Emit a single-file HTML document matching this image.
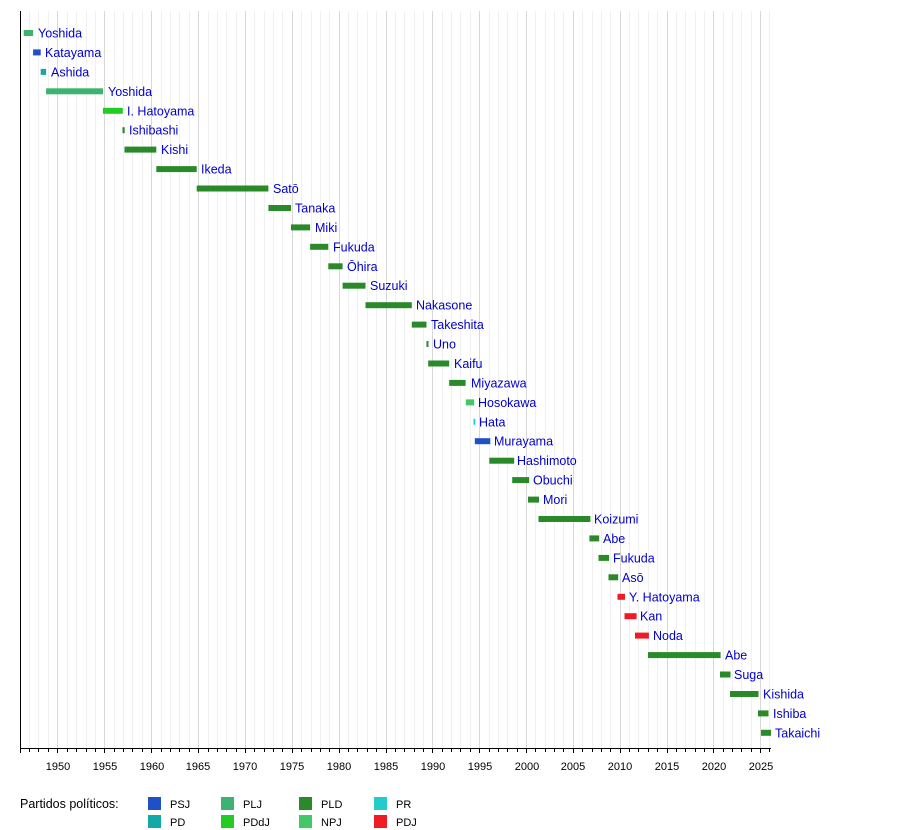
<!DOCTYPE html>
<html><head><meta charset="utf-8"><style>
html,body{margin:0;padding:0;background:#fff;}
svg{display:block;font-family:"Liberation Sans",sans-serif;}
.n{fill:#0000cc;font-size:12.5px;}
.t{font-size:11px;fill:#000;text-anchor:middle;}
.l{font-size:11px;fill:#000;}
</style></head><body>
<svg width="900" height="830" xmlns="http://www.w3.org/2000/svg">
<g stroke="#f0f0f0" stroke-width="1">
<path d="M29.5 11V748M38.5 11V748M48.5 11V748M67.5 11V748M76.5 11V748M86.5 11V748M95.5 11V748M114.5 11V748M123.5 11V748M132.5 11V748M142.5 11V748M161.5 11V748M170.5 11V748M179.5 11V748M189.5 11V748M208.5 11V748M217.5 11V748M226.5 11V748M236.5 11V748M254.5 11V748M264.5 11V748M273.5 11V748M282.5 11V748M301.5 11V748M311.5 11V748M320.5 11V748M329.5 11V748M348.5 11V748M357.5 11V748M367.5 11V748M376.5 11V748M395.5 11V748M404.5 11V748M414.5 11V748M423.5 11V748M442.5 11V748M451.5 11V748M460.5 11V748M470.5 11V748M489.5 11V748M498.5 11V748M507.5 11V748M517.5 11V748M535.5 11V748M545.5 11V748M554.5 11V748M563.5 11V748M582.5 11V748M592.5 11V748M601.5 11V748M610.5 11V748M629.5 11V748M638.5 11V748M648.5 11V748M657.5 11V748M676.5 11V748M685.5 11V748M695.5 11V748M704.5 11V748M723.5 11V748M732.5 11V748M741.5 11V748M751.5 11V748M769.5 11V748"/>
</g>
<g stroke="#d8d8d8" stroke-width="1">
<path d="M57.5 11V748M104.5 11V748M151.5 11V748M198.5 11V748M245.5 11V748M292.5 11V748M339.5 11V748M386.5 11V748M432.5 11V748M479.5 11V748M526.5 11V748M573.5 11V748M620.5 11V748M667.5 11V748M713.5 11V748M760.5 11V748"/>
</g>
<g stroke="#000" stroke-width="1">
<path d="M20.5 11V749M20 748.5H771"/>
<path d="M20.5 748V753M29.5 748V752M38.5 748V752M48.5 748V752M57.5 748V753M67.5 748V752M76.5 748V752M86.5 748V752M95.5 748V752M104.5 748V753M114.5 748V752M123.5 748V752M132.5 748V752M142.5 748V752M151.5 748V753M161.5 748V752M170.5 748V752M179.5 748V752M189.5 748V752M198.5 748V753M208.5 748V752M217.5 748V752M226.5 748V752M236.5 748V752M245.5 748V753M254.5 748V752M264.5 748V752M273.5 748V752M282.5 748V752M292.5 748V753M301.5 748V752M311.5 748V752M320.5 748V752M329.5 748V752M339.5 748V753M348.5 748V752M357.5 748V752M367.5 748V752M376.5 748V752M386.5 748V753M395.5 748V752M404.5 748V752M414.5 748V752M423.5 748V752M432.5 748V753M442.5 748V752M451.5 748V752M460.5 748V752M470.5 748V752M479.5 748V753M489.5 748V752M498.5 748V752M507.5 748V752M517.5 748V752M526.5 748V753M535.5 748V752M545.5 748V752M554.5 748V752M563.5 748V752M573.5 748V753M582.5 748V752M592.5 748V752M601.5 748V752M610.5 748V752M620.5 748V753M629.5 748V752M638.5 748V752M648.5 748V752M657.5 748V752M667.5 748V753M676.5 748V752M685.5 748V752M695.5 748V752M704.5 748V752M713.5 748V753M723.5 748V752M732.5 748V752M741.5 748V752M751.5 748V752M760.5 748V753M769.5 748V752"/>
</g>
<g class="t">
<text x="58" y="770">1950</text><text x="105" y="770">1955</text><text x="152" y="770">1960</text><text x="198" y="770">1965</text><text x="245" y="770">1970</text><text x="292" y="770">1975</text><text x="339" y="770">1980</text><text x="386" y="770">1985</text><text x="433" y="770">1990</text><text x="480" y="770">1995</text><text x="527" y="770">2000</text><text x="573" y="770">2005</text><text x="620" y="770">2010</text><text x="667" y="770">2015</text><text x="714" y="770">2020</text><text x="761" y="770">2025</text>
</g>
<g>
<rect x="23.7" y="30" width="9.4" height="6" fill="#3cb371"/>
<rect x="33.1" y="49.4" width="7.6" height="6" fill="#1e50c8"/>
<rect x="40.7" y="68.9" width="5.4" height="6" fill="#14a8a8"/>
<rect x="46.1" y="88.3" width="56.9" height="6" fill="#3cb371"/>
<rect x="103" y="107.8" width="19.8" height="6" fill="#22cc22"/>
<rect x="122.5" y="127.2" width="2.2" height="6" fill="#2a8a2a"/>
<rect x="124.5" y="146.6" width="31.8" height="6" fill="#2a8a2a"/>
<rect x="156.3" y="166.1" width="40.4" height="6" fill="#2a8a2a"/>
<rect x="196.7" y="185.5" width="71.7" height="6" fill="#2a8a2a"/>
<rect x="268.4" y="205" width="22.6" height="6" fill="#2a8a2a"/>
<rect x="291" y="224.4" width="19.1" height="6" fill="#2a8a2a"/>
<rect x="310.1" y="243.8" width="18.2" height="6" fill="#2a8a2a"/>
<rect x="328.3" y="263.3" width="14.3" height="6" fill="#2a8a2a"/>
<rect x="342.6" y="282.7" width="22.9" height="6" fill="#2a8a2a"/>
<rect x="365.5" y="302.2" width="46.3" height="6" fill="#2a8a2a"/>
<rect x="411.8" y="321.6" width="14.7" height="6" fill="#2a8a2a"/>
<rect x="426.5" y="341" width="2" height="6" fill="#2a8a2a"/>
<rect x="428.2" y="360.5" width="21" height="6" fill="#2a8a2a"/>
<rect x="449.2" y="379.9" width="16.4" height="6" fill="#2a8a2a"/>
<rect x="465.8" y="399.4" width="8.4" height="6" fill="#44c767"/>
<rect x="473.5" y="418.8" width="1.8" height="6" fill="#22cccc"/>
<rect x="474.8" y="438.2" width="15.5" height="6" fill="#1e50c8"/>
<rect x="489.3" y="457.7" width="24.9" height="6" fill="#2a8a2a"/>
<rect x="512.2" y="477.1" width="17" height="6" fill="#2a8a2a"/>
<rect x="528" y="496.6" width="11" height="6" fill="#2a8a2a"/>
<rect x="538.5" y="516" width="51.9" height="6" fill="#2a8a2a"/>
<rect x="589.4" y="535.4" width="9.8" height="6" fill="#2a8a2a"/>
<rect x="598.5" y="554.9" width="10.6" height="6" fill="#2a8a2a"/>
<rect x="608.5" y="574.3" width="9.7" height="6" fill="#2a8a2a"/>
<rect x="617.5" y="593.8" width="7.5" height="6" fill="#ee1c25"/>
<rect x="624.5" y="613.2" width="12.1" height="6" fill="#ee1c25"/>
<rect x="635" y="632.6" width="13.9" height="6" fill="#ee1c25"/>
<rect x="648" y="652.1" width="72.6" height="6" fill="#2a8a2a"/>
<rect x="720" y="671.5" width="10.5" height="6" fill="#2a8a2a"/>
<rect x="730" y="691" width="28.5" height="6" fill="#2a8a2a"/>
<rect x="758" y="710.4" width="10.5" height="6" fill="#2a8a2a"/>
<rect x="761" y="729.8" width="10" height="6" fill="#2a8a2a"/>
</g>
<g class="n">
<text x="38" y="37.5">Yoshida</text>
<text x="45" y="56.9">Katayama</text>
<text x="51" y="76.4">Ashida</text>
<text x="108" y="95.8">Yoshida</text>
<text x="127" y="115.3">I. Hatoyama</text>
<text x="129" y="134.7">Ishibashi</text>
<text x="161" y="154.1">Kishi</text>
<text x="201" y="173.6">Ikeda</text>
<text x="273" y="193">Satō</text>
<text x="295" y="212.5">Tanaka</text>
<text x="315" y="231.9">Miki</text>
<text x="333" y="251.3">Fukuda</text>
<text x="347" y="270.8">Ōhira</text>
<text x="370" y="290.2">Suzuki</text>
<text x="416" y="309.7">Nakasone</text>
<text x="431" y="329.1">Takeshita</text>
<text x="433" y="348.5">Uno</text>
<text x="454" y="368">Kaifu</text>
<text x="471" y="387.4">Miyazawa</text>
<text x="478" y="406.9">Hosokawa</text>
<text x="479" y="426.3">Hata</text>
<text x="494" y="445.7">Murayama</text>
<text x="517" y="465.2">Hashimoto</text>
<text x="533" y="484.6">Obuchi</text>
<text x="543" y="504.1">Mori</text>
<text x="594" y="523.5">Koizumi</text>
<text x="603" y="542.9">Abe</text>
<text x="613" y="562.4">Fukuda</text>
<text x="622" y="581.8">Asō</text>
<text x="629" y="601.3">Y. Hatoyama</text>
<text x="640" y="620.7">Kan</text>
<text x="653" y="640.1">Noda</text>
<text x="725" y="659.6">Abe</text>
<text x="734" y="679">Suga</text>
<text x="763" y="698.5">Kishida</text>
<text x="773" y="717.9">Ishiba</text>
<text x="775" y="737.3">Takaichi</text>
</g>
<text x="20" y="808" style="font-size:12.5px">Partidos políticos:</text>
<g class="l">
<rect x="148" y="797" width="13" height="13" fill="#1e50c8"/><text x="170" y="808">PSJ</text>
<rect x="148" y="815" width="13" height="13" fill="#14a8a8"/><text x="170" y="826">PD</text>
<rect x="221" y="797" width="13" height="13" fill="#3cb371"/><text x="243" y="808">PLJ</text>
<rect x="221" y="815" width="13" height="13" fill="#22cc22"/><text x="243" y="826">PDdJ</text>
<rect x="299" y="797" width="13" height="13" fill="#2a8a2a"/><text x="321" y="808">PLD</text>
<rect x="299" y="815" width="13" height="13" fill="#44c767"/><text x="321" y="826">NPJ</text>
<rect x="374" y="797" width="13" height="13" fill="#22cccc"/><text x="396" y="808">PR</text>
<rect x="374" y="815" width="13" height="13" fill="#ee1c25"/><text x="396" y="826">PDJ</text>
</g>
</svg>
</body></html>
